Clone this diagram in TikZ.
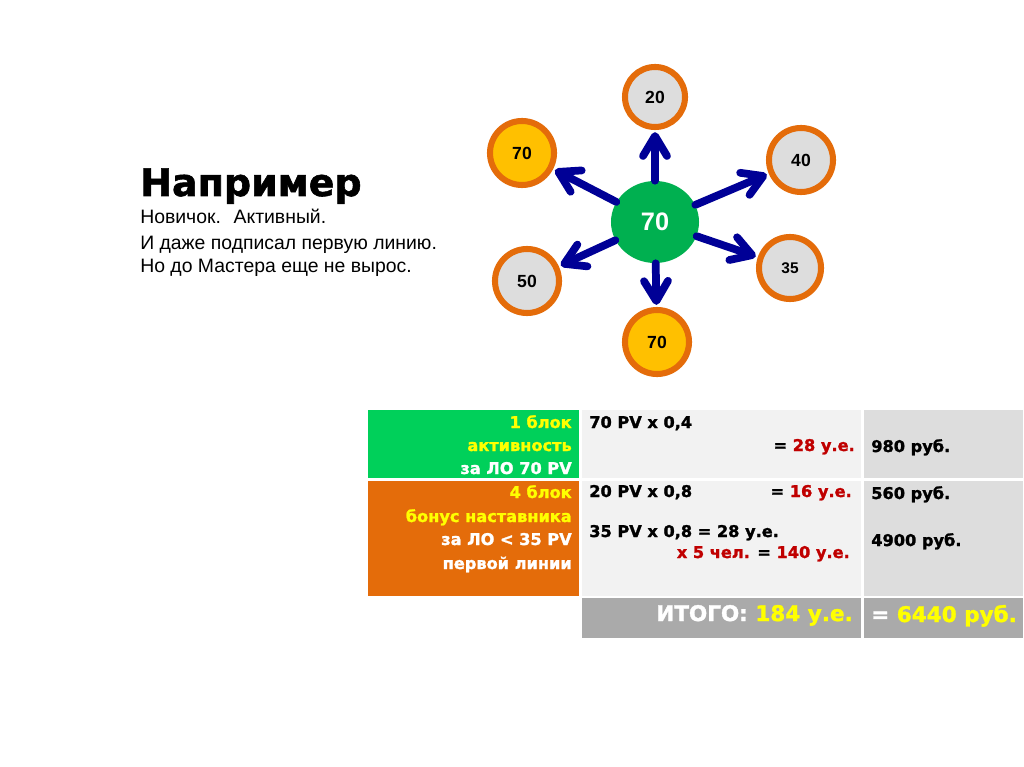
\documentclass[tikz,border=0pt]{standalone}
\usepackage{fontspec}
\setmainfont{Liberation Sans}
\newfontfamily\heavy[BoldFeatures={FakeBold=1.5}]{DejaVu Sans}
\usetikzlibrary{arrows.meta,shapes.geometric}

\definecolor{ringorange}{RGB}{228,108,10}
\definecolor{bubgray}{RGB}{221,221,221}
\definecolor{bubyellow}{RGB}{255,192,0}
\definecolor{midgreen}{RGB}{0,176,80}
\definecolor{arrblue}{RGB}{0,0,150}
\definecolor{cellgreen}{RGB}{0,208,90}
\definecolor{cellorange}{RGB}{228,108,10}
\definecolor{celllight}{RGB}{242,242,242}
\definecolor{cellgray}{RGB}{221,221,221}
\definecolor{celldark}{RGB}{170,170,170}
\definecolor{darkred}{RGB}{192,0,0}
\definecolor{hiyellow}{RGB}{255,255,0}

\begin{document}
\begin{tikzpicture}[x=0.025cm, y=-0.025cm,
  bub/.style={circle, draw=ringorange, line width=4.3pt, fill=bubgray, minimum size=1.6cm, inner sep=0pt, font=\bfseries\fontsize{12.5}{14}\selectfont},
  arr/.style={draw=arrblue, line width=5.5pt, line cap=round, shorten >=1.5pt, -{Straight Barb[length=5mm, width=6mm, round]}},
  celltxt/.style={inner sep=0pt, font=\heavy\bfseries\fontsize{11.5}{13}\selectfont}]
  \useasboundingbox[fill=white] (0,0) rectangle (1024,767);

  % heading and the three lines below it
  \node[anchor=base west, inner sep=0pt, font=\heavy\bfseries\fontsize{27}{30}\selectfont] (title) at (140,196) {Например};
  \node[anchor=base west, inner sep=0pt, font=\fontsize{13.8}{16}\selectfont] (line1) at (140,224) {Новичок.~ Активный.};
  \node[anchor=base west, inner sep=0pt, font=\fontsize{13.8}{16}\selectfont] (line2) at (140,249) {И даже подписал первую линию.};
  \node[anchor=base west, inner sep=0pt, font=\fontsize{13.8}{16}\selectfont] (line3) at (140,273) {Но до Мастера еще не вырос.};

  % first line around the green one
  \node[bub, minimum size=1.5cm] (b20) at (655,97) {20};
  \node[bub, fill=bubyellow] (b70a) at (522,153) {70};
  \node[bub] (b40) at (801,160) {40};
  \node[bub, minimum size=1.55cm, font=\bfseries\fontsize{11}{13}\selectfont] (b35) at (790,268) {35};
  \node[bub] (b50) at (527,281) {50};
  \node[bub, fill=bubyellow] (b70b) at (657,342) {70};
  \node[ellipse, fill=midgreen, minimum width=2.2cm, minimum height=2.05cm, inner sep=0pt, text=white, font=\bfseries\fontsize{18}{20}\selectfont] (mid) at (655,222) {70};
  \foreach \b in {b20,b70a,b40,b35,b50,b70b}
    \draw[arr] (mid) -- (\b);

  % table cells
  \fill[cellgreen] (368,410) rectangle (579,478);
  \fill[cellorange] (368,481) rectangle (579,596);
  \fill[celllight] (582,410) rectangle (861,478);
  \fill[celllight] (582,481) rectangle (861,596);
  \fill[cellgray] (864,410) rectangle (1023,478);
  \fill[cellgray] (864,481) rectangle (1023,596);
  \fill[celldark] (582,598) rectangle (861,638);
  \fill[celldark] (864,598) rectangle (1023,638);

  % left column
  \node[celltxt, anchor=base east, text=hiyellow] (g1) at (572,428) {1 блок};
  \node[celltxt, anchor=base east, text=hiyellow] (g2) at (572,451) {активность};
  \node[celltxt, anchor=base east, text=white] (g3) at (572,474) {за ЛО 70 PV};
  \node[celltxt, anchor=base east, text=hiyellow] (o1) at (572,498) {4 блок};
  \node[celltxt, anchor=base east, text=hiyellow] (o2) at (572,522) {бонус наставника};
  \node[celltxt, anchor=base east, text=white] (o3) at (572,545) {за ЛО < 35 PV};
  \node[celltxt, anchor=base east, text=white] (o4) at (572,569) {первой линии};

  % middle column
  \node[celltxt, anchor=base west] (m1) at (589,428) {70 PV x 0,4};
  \node[celltxt, anchor=base east] (m2) at (855,451) {= \textcolor{darkred}{28 у.е.}};
  \node[celltxt, anchor=base west] (m3) at (589,497) {20 PV x 0,8};
  \node[celltxt, anchor=base east] (m4) at (852,497) {= \textcolor{darkred}{16 у.е.}};
  \node[celltxt, anchor=base west] (m5) at (589,537) {35 PV x 0,8 = 28 у.е.};
  \node[celltxt, anchor=base east] (m6) at (850,558) {\textcolor{darkred}{x 5 чел.} = \textcolor{darkred}{140 у.е.}};

  % right column
  \node[celltxt, anchor=base west] (r1) at (871,452) {980 руб.};
  \node[celltxt, anchor=base west] (r2) at (871,499) {560 руб.};
  \node[celltxt, anchor=base west] (r3) at (871,546) {4900 руб.};

  % total row
  \node[celltxt, anchor=base east, text=white, font=\heavy\bfseries\fontsize{15.3}{18}\selectfont] (sum1) at (853,621) {ИТОГО: \textcolor{hiyellow}{184 у.е.}};
  \node[celltxt, anchor=base west, text=white, font=\heavy\bfseries\fontsize{15.3}{18}\selectfont] (sum2) at (871,622) {= \textcolor{hiyellow}{6440 руб.}};
\end{tikzpicture}
\end{document}
